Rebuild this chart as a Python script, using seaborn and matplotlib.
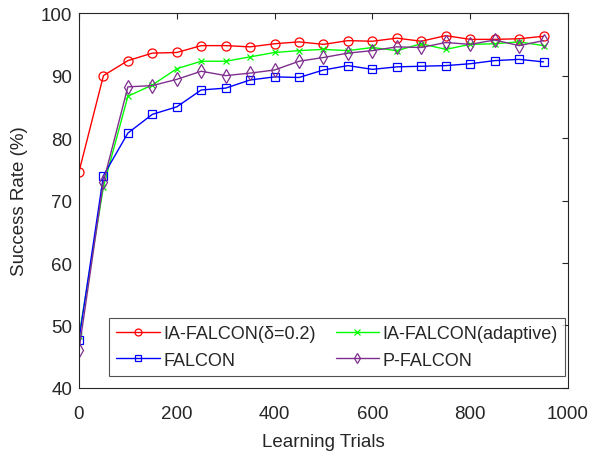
import matplotlib
matplotlib.use('Agg')
import numpy as np
import pandas as pd
import matplotlib.pyplot as plt
import seaborn as sns

# data
trials = [0, 50, 100, 150, 200, 250, 300, 350, 400, 450, 500,
          550, 600, 650, 700, 750, 800, 850, 900, 950]
ia_falcon_02 = [74.6, 90.0, 92.4, 93.6, 93.7, 94.8, 94.8, 94.6, 95.1, 95.4, 95.0,
                95.6, 95.5, 96.0, 95.5, 96.4, 95.8, 95.8, 95.9, 96.3]
ia_falcon_adapt = [48.3, 72.2, 86.7, 88.5, 91.1, 92.3, 92.3, 93.0, 93.7, 94.0, 94.2,
                   94.0, 94.5, 94.0, 95.1, 94.2, 95.0, 95.1, 95.4, 94.8]
falcon = [47.7, 74.0, 80.8, 83.8, 85.0, 87.7, 88.0, 89.3, 89.8, 89.7, 90.9,
          91.6, 91.0, 91.4, 91.5, 91.6, 91.9, 92.4, 92.6, 92.2]
p_falcon = [46.1, 73.0, 88.2, 88.4, 89.4, 90.7, 90.0, 90.4, 90.9, 92.3, 92.9,
            93.6, 94.0, 94.6, 94.5, 95.3, 95.0, 95.7, 94.8, 95.6]

series = [
    ("IA-FALCON(δ=0.2)", ia_falcon_02, "#ff0000", "o", 6.5),
    ("IA-FALCON(adaptive)", ia_falcon_adapt, "#00ff00", "x", 5),
    ("FALCON", falcon, "#0000ff", "s", 5.2),
    ("P-FALCON", p_falcon, "#7e2f8e", "d", 7.5),
]

sns.set_style("white")
plt.rcParams['font.family'] = ['Liberation Sans', 'DejaVu Sans']

fig, ax = plt.subplots(figsize=(5.97, 4.56), dpi=100)
fig.subplots_adjust(left=0.1323, right=0.9514, top=0.969, bottom=0.147)

for name, vals, col, mk, ms in series:
    df = pd.DataFrame({"x": trials, "y": vals})
    sns.lineplot(data=df, x="x", y="y", ax=ax, color=col, marker=mk,
                 markersize=ms, markerfacecolor='none', markeredgecolor=col,
                 markeredgewidth=0.9, linewidth=1.0, label=name)

ax.set_xlim(0, 1000)
ax.set_ylim(40, 100)
ax.set_xticks(range(0, 1001, 200))
ax.set_yticks(range(40, 101, 10))
ax.set_xlabel("Learning Trials", fontsize=13.5, labelpad=8, color='#262626')
ax.set_ylabel("Success Rate (%)", fontsize=13.5, labelpad=9, color='#262626')
ax.tick_params(direction='in', top=True, right=True, length=4,
               labelsize=13.5, color='#262626', labelcolor='#262626')
ax.tick_params(axis='x', pad=12)
ax.tick_params(axis='y', pad=5)
for sp in ax.spines.values():
    sp.set_color('#262626')
    sp.set_linewidth(0.8)

# legend order: two columns, row-wise like the reference
h, l = ax.get_legend_handles_labels()
order = [0, 2, 1, 3]
leg = ax.legend([h[i] for i in order], [l[i] for i in order], ncol=2,
                loc='lower left', bbox_to_anchor=(0.0613, 0.032, 0.9325, 0.1),
                mode='expand', borderaxespad=0,
                fontsize=13, frameon=True, fancybox=False,
                edgecolor='#262626', handlelength=2.4, columnspacing=0.5,
                borderpad=0.4, labelspacing=0.55, handletextpad=0.2)
leg.get_frame().set_linewidth(0.8)
for lh in leg.legend_handles:
    lh.set_markersize(5)

fig.savefig("out.png", dpi=100)
